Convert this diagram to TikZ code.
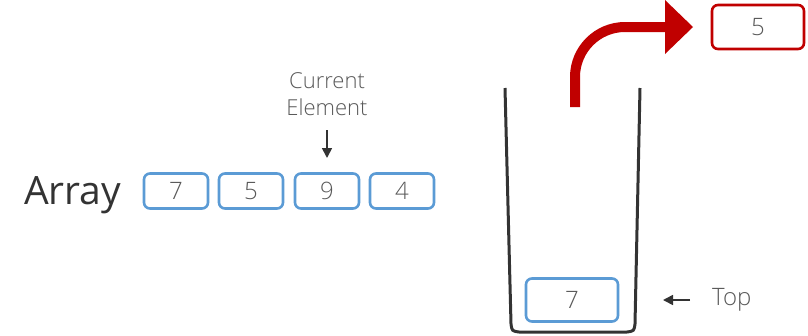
\documentclass[tikz,border=0pt]{standalone}
\usepackage{fontspec}
\setmainfont{Open Sans}
\newfontfamily\lightfont{Open Sans Light}
\usetikzlibrary{arrows.meta}
\definecolor{boxblue}{HTML}{5B9BD5}
\definecolor{darkred}{HTML}{C00000}
\definecolor{ink}{HTML}{333333}
\definecolor{soft}{HTML}{595959}
\tikzset{
  cell/.style={draw=boxblue, line width=2.6pt, rounded corners=6pt, minimum width=64pt, minimum height=35pt, inner sep=0pt, text=soft, font=\lightfont\fontsize{24}{28}\selectfont},
  redcell/.style={cell, draw=darkred, minimum width=92pt, minimum height=44pt},
  stackcell/.style={cell, minimum width=92pt, minimum height=43pt},
  label/.style={text=soft, font=\lightfont\fontsize{22}{27}\selectfont, inner sep=0pt},
  pointer/.style={draw=ink, line width=1.7pt, -{Triangle[length=10pt,width=10pt]}},
}
\begin{document}
\begin{tikzpicture}[x=1pt,y=-1pt]
\useasboundingbox (0,0) rectangle (808,335);
% array
\node[anchor=base west, text=ink, inner sep=0pt, font=\fontsize{39}{42}\selectfont] (arr) at (24,204) {Array};
\node[cell] (a1) at (176,191) {7};
\node[cell] (a2) at (251,191) {5};
\node[cell] (a3) at (327,191) {9};
\node[cell] (a4) at (402,191) {4};
\node[label, align=center] (cur) at (327,94) {Current\\Element};
\coordinate (curtip) at (327,158);
\draw[pointer] (327,130) -- (curtip);
% cup
\draw[ink, line width=3pt, line join=round] (505,88) -- (511,324) .. controls (512,331) .. (519,332) -- (627,332) .. controls (634,331) .. (635,324) -- (640,88);
\node[stackcell] (s1) at (572,300) {7};
\node[label, anchor=west, font=\lightfont\fontsize{24}{28}\selectfont] (top) at (712,300) {Top};
\coordinate (topstart) at (690,300);
\draw[pointer] (topstart) -- (663,300);
% popped element
\node[redcell] (r) at (758,27) {5};
\coordinate (rs) at (575,107);
\coordinate (re) at (667,27);
\draw[darkred, line width=10pt] (rs) -- (575,77) .. controls (575,49.4) and (597.4,27) .. (625,27) -- (re);
\fill[darkred] (665,0) -- (693,27) -- (665,54) -- cycle;
\end{tikzpicture}
\end{document}
